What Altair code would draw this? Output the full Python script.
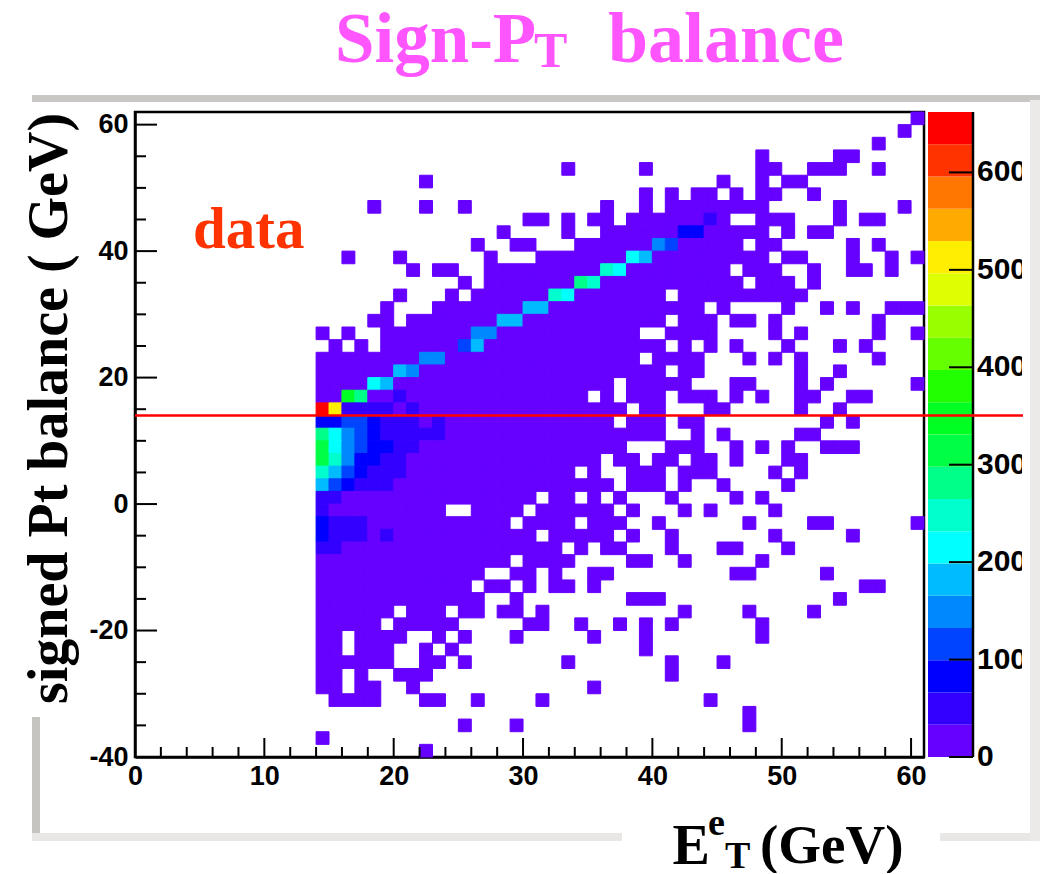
import altair as alt
import pandas as pd

# Histogram occupancy: row index -> inclusive runs of occupied 1 GeV columns.
# Row r covers signed Pt balance from -40 + 2r to -38 + 2r GeV.
occupied_runs = {
    50: [(60, 60)],
    49: [(59, 59)],
    48: [(57, 57)],
    47: [(48, 48), (54, 55)],
    46: [(33, 33), (39, 39), (48, 49), (52, 54), (57, 57)],
    45: [(22, 22), (45, 45), (48, 48), (50, 51)],
    44: [(39, 39), (41, 41), (43, 44), (46, 46), (48, 49), (52, 52)],
    43: [(18, 18), (22, 22), (25, 25), (36, 36), (39, 39), (41, 48), (54, 54), (59, 59)],
    42: [(30, 31), (33, 33), (35, 36), (38, 45), (48, 50), (54, 54), (56, 57)],
    41: [(28, 28), (33, 33), (36, 48), (50, 50), (52, 53)],
    40: [(26, 26), (29, 30), (34, 46), (48, 49), (55, 55), (57, 57)],
    39: [(16, 16), (20, 20), (27, 27), (31, 48), (50, 51), (55, 55), (58, 58), (60, 60)],
    38: [(21, 21), (23, 24), (27, 45), (47, 49), (52, 52), (55, 56), (58, 58)],
    37: [(25, 25), (27, 46), (48, 50), (52, 52)],
    36: [(20, 20), (24, 24), (26, 40), (42, 51)],
    35: [(19, 19), (23, 43), (45, 45), (50, 50), (53, 53), (55, 55), (58, 60)],
    34: [(18, 19), (21, 40), (42, 44), (46, 47), (49, 49), (57, 57)],
    33: [(14, 14), (16, 16), (19, 38), (41, 44), (49, 49), (51, 51), (57, 57), (60, 60)],
    32: [(15, 15), (17, 17), (19, 40), (42, 42), (44, 44), (46, 46), (50, 50), (54, 54), (56, 56)],
    31: [(14, 38), (40, 43), (47, 47), (49, 49), (51, 51), (57, 57)],
    30: [(14, 40), (42, 43), (51, 51), (54, 54)],
    29: [(14, 36), (38, 42), (46, 47), (51, 51), (53, 53), (60, 60)],
    28: [(14, 34), (36, 36), (38, 40), (42, 44), (46, 46), (48, 48), (51, 52), (55, 56)],
    27: [(14, 37), (39, 40), (44, 45), (51, 51), (54, 54)],
    26: [(14, 36), (38, 40), (42, 43), (53, 53), (55, 55)],
    25: [(14, 40), (43, 43), (45, 45), (51, 52)],
    24: [(14, 37), (41, 43), (46, 46), (48, 48), (50, 50), (53, 55)],
    23: [(14, 35), (37, 38), (40, 41), (43, 44), (46, 46), (50, 51)],
    22: [(14, 33), (35, 35), (38, 40), (42, 44), (49, 49), (51, 51)],
    21: [(14, 36), (38, 40), (42, 42), (45, 45), (50, 50)],
    20: [(14, 30), (32, 33), (35, 35), (37, 37), (41, 41), (46, 46), (48, 48)],
    19: [(14, 23), (26, 29), (31, 36), (38, 38), (42, 42), (44, 44), (49, 49)],
    18: [(14, 28), (30, 33), (35, 37), (40, 40), (47, 47), (52, 53), (60, 60)],
    17: [(14, 30), (32, 36), (38, 38), (41, 41), (49, 49), (55, 55)],
    16: [(14, 32), (34, 34), (36, 37), (41, 41), (45, 46), (50, 50)],
    15: [(14, 28), (30, 33), (38, 39), (42, 42), (48, 48)],
    14: [(14, 26), (29, 30), (32, 32), (35, 36), (46, 47), (53, 53)],
    13: [(14, 25), (27, 28), (30, 30), (32, 33), (35, 35), (56, 57)],
    12: [(14, 26), (29, 29), (38, 40), (54, 54)],
    11: [(14, 19), (21, 23), (25, 26), (28, 29), (31, 31), (42, 42), (47, 47), (52, 52)],
    10: [(14, 18), (20, 24), (30, 31), (34, 34), (37, 37), (39, 39), (41, 41), (48, 48)],
    9: [(14, 15), (17, 20), (23, 23), (25, 25), (29, 29), (35, 35), (39, 39), (48, 48)],
    8: [(14, 15), (17, 19), (22, 22), (24, 24), (39, 39)],
    7: [(14, 19), (22, 23), (25, 25), (33, 33), (41, 41), (45, 45)],
    6: [(14, 15), (17, 17), (20, 22), (41, 41)],
    5: [(14, 15), (17, 18), (21, 21), (35, 35)],
    4: [(15, 18), (22, 23), (26, 26), (31, 31), (44, 44)],
    3: [(47, 47)],
    2: [(25, 25), (29, 29), (47, 47)],
    1: [(14, 14)],
    0: [(22, 22)],
}

# Estimated count in ordinary occupied cells.
base_count = 16

# Cells above the lowest colour band: row -> {column: estimated count}.
hot_cells = {
    42: {44: 50},
    41: {42: 83, 43: 83},
    40: {40: 149, 41: 116},
    39: {38: 215, 39: 182},
    38: {36: 248, 37: 215},
    37: {34: 281, 35: 248},
    36: {32: 248, 33: 215},
    35: {30: 182, 31: 182},
    34: {28: 182, 29: 182},
    33: {26: 149, 27: 149},
    32: {25: 116, 26: 182},
    31: {22: 149, 23: 149},
    30: {20: 182, 21: 149},
    29: {18: 215, 19: 182},
    28: {16: 347, 17: 281, 20: 50},
    27: {14: 650, 15: 513, 16: 50, 17: 50, 18: 50, 19: 50, 21: 50},
    26: {14: 83, 15: 83, 16: 116, 17: 116, 18: 83, 19: 50, 20: 50, 21: 50, 23: 50},
    25: {14: 281, 15: 215, 16: 149, 17: 116, 18: 83, 19: 50, 20: 50, 21: 50, 22: 50, 23: 50},
    24: {14: 314, 15: 215, 16: 149, 17: 116, 18: 83, 19: 83, 20: 50, 21: 50},
    23: {14: 314, 15: 248, 16: 149, 17: 83, 18: 83, 19: 50, 20: 50},
    22: {14: 248, 15: 182, 16: 116, 17: 83, 18: 50, 19: 50, 20: 50},
    21: {14: 182, 15: 116, 16: 83, 17: 50, 18: 50, 19: 50},
    20: {14: 50, 15: 50},
    19: {14: 50},
    18: {14: 83, 15: 50, 16: 50, 17: 50},
    17: {14: 83, 15: 50, 16: 50, 17: 50, 19: 50},
    16: {14: 50, 15: 50},
}

band_colors = [
    "#6600ff", "#3300ff", "#0000ff", "#0044ff", "#0088ff",
    "#00bbff", "#00ffff", "#00ffcc", "#00ff88", "#00ff44",
    "#00ff22", "#22ff00", "#66ff00", "#99ff00", "#ddff00",
    "#ffee00", "#ffaa00", "#ff7700", "#ff3300", "#ff0000",
]
color_max = 662
bar_ticks = [0, 100, 200, 300, 400, 500, 600]
x_major = [0, 10, 20, 30, 40, 50, 60]
x_minor = [2, 4, 6, 8, 12, 14, 16, 18, 22, 24, 26, 28, 32, 34, 36, 38, 42, 44, 46, 48, 52, 54, 56, 58]
y_major = [-40, -20, 0, 20, 40, 60]
y_minor = [-35, -30, -25, -15, -10, -5, 5, 10, 15, 25, 30, 35, 45, 50, 55]
cut_line = 14

W, H = 789, 645
SANS = "Liberation Sans"
SERIF = "Liberation Serif"

cells = []
for r, runs in occupied_runs.items():
    for a, b in runs:
        for c in range(a, b + 1):
            cells.append({
                "x0": c, "x1": c + 1,
                "y0": -40 + 2 * r, "y1": -38 + 2 * r,
                "count": hot_cells.get(r, {}).get(c, base_count),
            })
cells = pd.DataFrame(cells)

step = color_max / len(band_colors)
bands = pd.DataFrame({
    "lo": [i * step for i in range(len(band_colors))],
    "hi": [(i + 1) * step for i in range(len(band_colors))],
    "count": [(i + 0.5) * step for i in range(len(band_colors))],
})

one = pd.DataFrame({"a": [0]})
color_scale = alt.Scale(type="quantize", domain=[0, color_max], range=band_colors)
x_scale = alt.Scale(domain=[0, 61], nice=False, zero=False)
y_scale = alt.Scale(domain=[-40, 62], nice=False, zero=False)
bar_scale = alt.Scale(domain=[0, color_max], nice=False, zero=False)


def box(color, left, right, top, bottom):
    """Decorative rectangle given in page pixels."""
    return alt.Chart(one).mark_rect(color=color).encode(
        x=alt.value(left - 135), x2=alt.value(right - 135),
        y=alt.value(top - 112), y2=alt.value(bottom - 112),
    )


def label(text, left, baseline, size, color="black", font=SERIF, weight="bold", align="left"):
    return alt.Chart(pd.DataFrame({"t": [text]})).mark_text(
        font=font, fontSize=size, fontWeight=weight, color=color, align=align, baseline="alphabetic",
    ).encode(x=alt.value(left - 135), y=alt.value(baseline - 112), text="t:N")


frame = alt.layer(
    box("#c9c7c3", 32, 1040, 95, 102),
    box("#c6c4c0", 32, 40, 717, 836),
    box("#e8e7e5", 32, 622, 833, 841),
    box("#e8e7e5", 940, 1040, 833, 841),
    box("#ebeae8", 1030, 1040, 100, 841),
)

heat = alt.Chart(cells).mark_rect(strokeWidth=1, opacity=1).encode(
    x=alt.X("x0:Q", scale=x_scale, axis=alt.Axis(
        values=x_major, tickSize=0, grid=False, domainWidth=2.5, domainColor="black",
        labelFont=SANS, labelFontSize=27, labelFontWeight="bold", labelColor="black",
        labelPadding=6, labelFlush=False, labelOverlap=False, labelExpr="'' + datum.value",
        title="E", titleFont=SERIF, titleFontSize=56, titleFontWeight="bold", titleColor="black",
        titleX=537, titleY=106, titleAlign="left", titleBaseline="alphabetic",
    )),
    x2="x1:Q",
    y=alt.Y("y0:Q", scale=y_scale, axis=alt.Axis(
        values=y_major, tickSize=0, grid=False, domainWidth=2.5, domainColor="black",
        labelFont=SANS, labelFontSize=27, labelFontWeight="bold", labelColor="black",
        labelPadding=7, labelFlush=False, labelOverlap=False, labelExpr="'' + datum.value",
        title="signed Pt balance ( GeV)", titleFont=SERIF, titleFontSize=56, titleFontWeight="bold",
        titleColor="black", titleX=-69, titleY=296, titleAngle=270, titleAlign="center",
        titleBaseline="alphabetic",
    )),
    y2="y1:Q",
    color=alt.Color("count:Q", scale=color_scale, legend=None),
    stroke=alt.Color("count:Q", scale=color_scale, legend=None),
)


def x_ticks(values, length):
    return alt.Chart(pd.DataFrame({"v": values})).mark_rule(color="black", strokeWidth=2).encode(
        x=alt.X("v:Q", scale=x_scale), y=alt.value(H), y2=alt.value(H - length),
    )


def y_ticks(values, length):
    return alt.Chart(pd.DataFrame({"v": values})).mark_rule(color="black", strokeWidth=2).encode(
        y=alt.Y("v:Q", scale=y_scale), x=alt.value(0), x2=alt.value(length),
    )


cut = alt.Chart(pd.DataFrame({"v": [cut_line]})).mark_rule(color="#ff0000", strokeWidth=2.5).encode(
    y=alt.Y("v:Q", scale=y_scale, axis=None), x=alt.value(0), x2=alt.value(888),
)

main = alt.layer(heat, x_ticks(x_major, 19), x_ticks(x_minor, 10), y_ticks(y_major, 22), y_ticks(y_minor, 11))

color_bar = alt.Chart(bands).mark_rect(stroke=None).encode(
    x=alt.value(793), x2=alt.value(838),
    y=alt.Y("lo:Q", scale=bar_scale, axis=None), y2="hi:Q",
    color=alt.Color("count:Q", scale=color_scale, legend=None),
)
tick_df = pd.DataFrame({"v": bar_ticks, "t": [str(v) for v in bar_ticks]})
bar_tick_marks = alt.Chart(tick_df).mark_rule(color="black", strokeWidth=2).encode(
    y=alt.Y("v:Q", scale=bar_scale, axis=None), x=alt.value(814), x2=alt.value(838),
)
bar_line = alt.Chart(one).mark_rule(color="black", strokeWidth=2.5).encode(
    x=alt.value(838), y=alt.value(0), y2=alt.value(H),
)
bar_labels = alt.Chart(tick_df).mark_text(
    font=SANS, fontSize=30, fontWeight="bold", color="black", align="left", baseline="middle",
).encode(y=alt.Y("v:Q", scale=bar_scale, axis=None), x=alt.value(842), text="t:N")
bar = alt.layer(color_bar, bar_tick_marks, bar_line, bar_labels)

cover = box("white", 1022, 1030, 104, 800)

texts = alt.layer(
    label("Sign-P", 335, 62, 71, "#ff55ff"),
    label("T", 534, 67, 50, "#ff55ff"),
    label("balance", 608, 62, 72, "#ff55ff"),
    label("data", 193, 248, 59, "#ff3300"),
    label("e", 708, 835, 38),
    label("T", 725, 868, 38),
    label("(GeV)", 760, 863, 55),
)

chart = alt.layer(frame, main, bar, cover, cut, texts).resolve_scale(
    y="independent", x="independent"
).properties(
    width=W, height=H,
    padding={"left": 127, "top": 104, "right": 116, "bottom": 116},
    autosize=alt.AutoSizeParams(type="none", contains="content"),
).configure_view(stroke="black", strokeWidth=2.5)

chart.save("out.html", embed_options={"renderer": "svg", "actions": False})
